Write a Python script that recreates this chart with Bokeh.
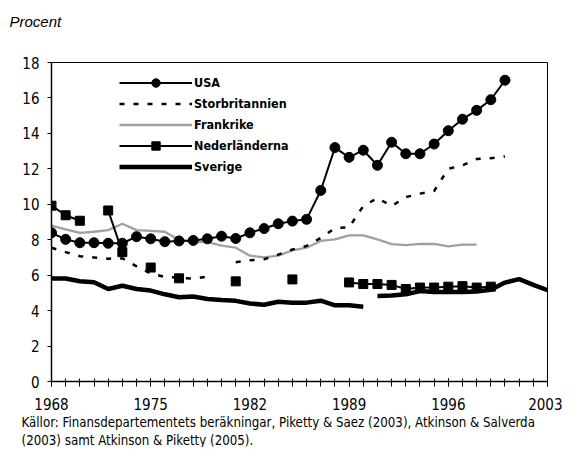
from bokeh.plotting import figure
from bokeh.models import FixedTicker, Legend, LegendItem, Title
from bokeh.embed import file_html
from bokeh.resources import INLINE

nan = float("nan")

# ---- data ----
usa_years = list(range(1968, 2001))
usa = [8.39, 8.02, 7.83, 7.83, 7.80, 7.80, 8.17, 8.05, 7.89, 7.93, 7.96, 8.05, 8.20,
       8.07, 8.39, 8.63, 8.90, 9.05, 9.15, 10.78,
       13.2, 12.65, 13.05, 12.2, 13.5, 12.85, 12.85, 13.4, 14.15, 14.8, 15.3, 15.9, 17.0]

uk_years = list(range(1968, 2001))
storbritannien = [7.55, 7.3, 7.07, 7.0, 6.93, 6.95, 6.5, 6.1, 5.9, 5.86, 5.8, 5.92, nan,
                  6.73, 6.84, 6.9, 7.16, 7.45, 7.65, 8.1,
                  8.65, 8.7, 9.9, 10.35, 9.9, 10.4, 10.6, 10.75, 12.0, 12.2, 12.55, 12.6, 12.7]

fr_years = list(range(1968, 1999))
frankrike = [8.8, 8.58, 8.39, 8.45, 8.54, 8.9, 8.54, 8.5, 8.45, 7.98, 7.89, 7.87, 7.67,
             7.55, 7.1, 7.0, 7.1, 7.4, 7.55, 7.93,
             8.02, 8.25, 8.25, 8.02, 7.75, 7.7, 7.76, 7.76, 7.62, 7.72, 7.72]

nl_years = list(range(1968, 2000))
nederlanderna = [9.92, 9.38, 9.07, nan, 9.65, 7.3, nan, 6.43, nan, 5.82, nan, nan,
                 nan, 5.65, nan, nan, nan, 5.76, nan, nan, nan,
                 5.59, 5.5, 5.5, 5.45, 5.22, 5.3, 5.3, 5.35, 5.38, 5.3, 5.35]

se_years_1 = list(range(1968, 1991))
sverige_1 = [5.81, 5.81, 5.66, 5.6, 5.22, 5.4, 5.22, 5.13, 4.92, 4.75, 4.8, 4.66, 4.6,
             4.55, 4.4, 4.33, 4.5, 4.44, 4.45, 4.56, 4.3, 4.3, 4.22]
se_years_2 = list(range(1991, 2004))
sverige_2 = [4.82, 4.85, 4.92, 5.1, 5.05, 5.05, 5.05, 5.08, 5.18, 5.58, 5.78, 5.45, 5.15]

x_tick_labels = [1968, 1975, 1982, 1989, 1996, 2003]
x_minor = list(range(1968, 2004))
y_ticks = [0, 2, 4, 6, 8, 10, 12, 14, 16, 18]

labels = ["USA", "Storbritannien", "Frankrike", "Nederländerna", "Sverige"]
y_unit = "Procent"
source_1 = "Källor: Finansdepartementets beräkningar, Piketty & Saez (2003), Atkinson & Salverda"
source_2 = "(2003) samt Atkinson & Piketty (2005)."

# ---- styling ----
NARROW = "'Liberation Sans Narrow', 'DejaVu Sans Condensed', 'Arial Narrow', sans-serif"
GRAY = "#a0a0a0"

p = figure(width=562, height=447, output_backend="svg", toolbar_location=None,
           x_range=(1968, 2003), y_range=(0, 18),
           min_border_left=51, min_border_right=15, min_border_top=0, min_border_bottom=0)
p.grid.visible = False
p.outline_line_color = "black"
p.outline_line_width = 1
p.background_fill_color = "white"
p.border_fill_color = "white"

# spacer between the unit label and the frame (closest to the frame)
p.add_layout(Title(text=" ", text_font_size="15px", standoff=3), "above")

p.title.text = y_unit
p.title.align = "left"
p.title.offset = -42
p.title.text_font = "'Liberation Sans', Arial, sans-serif"
p.title.text_font_style = "italic"
p.title.text_font_size = "15px"
p.title.text_color = "black"
p.title.standoff = 21

p.xaxis.ticker = FixedTicker(ticks=x_tick_labels, minor_ticks=x_minor)
p.xaxis.major_tick_in = 3
p.xaxis.major_tick_out = 5
p.xaxis.minor_tick_in = 3
p.xaxis.minor_tick_out = 5
p.xaxis.minor_tick_line_color = "black"
p.xaxis.major_tick_line_color = "black"
p.xaxis.axis_line_width = 1.5
p.xaxis.major_label_standoff = 11
p.yaxis.ticker = FixedTicker(ticks=y_ticks)
p.yaxis.major_tick_in = 0
p.yaxis.major_tick_out = 4
p.yaxis.minor_tick_line_color = None
p.yaxis.axis_line_width = 1.5
p.yaxis.major_label_standoff = 8
for ax in (p.xaxis, p.yaxis):
    ax.major_label_text_font = NARROW
    ax.major_label_text_font_size = "15px"
    ax.major_label_text_color = "black"
    ax.axis_line_color = "black"

r_se1 = p.line(se_years_1, sverige_1, line_color="black", line_width=4.5)
r_se2 = p.line(se_years_2, sverige_2, line_color="black", line_width=4.5)
r_fr = p.line(fr_years, frankrike, line_color=GRAY, line_width=2.3)
r_uk = p.line(uk_years, storbritannien, line_color="black", line_width=2.5, line_dash="5 9")
r_nl = p.line(nl_years, nederlanderna, line_color="black", line_width=2)
r_nl_m = p.scatter(nl_years, nederlanderna, marker="square", size=9, color="black")
r_us = p.line(usa_years, usa, line_color="black", line_width=2)
r_us_m = p.scatter(usa_years, usa, marker="circle", size=10, color="black")

legend = Legend(items=[
    LegendItem(label=labels[0], renderers=[r_us, r_us_m]),
    LegendItem(label=labels[1], renderers=[r_uk]),
    LegendItem(label=labels[2], renderers=[r_fr]),
    LegendItem(label=labels[3], renderers=[r_nl, r_nl_m]),
    LegendItem(label=labels[4], renderers=[r_se1]),
], location=(68, 204), orientation="vertical")
legend.padding = 0
legend.margin = 0
legend.spacing = 0
legend.glyph_width = 73
legend.glyph_height = 21
legend.label_height = 21
legend.label_standoff = 2
legend.label_text_font = NARROW
legend.label_text_font_style = "bold"
legend.label_text_font_size = "12.5px"
legend.label_text_color = "black"
legend.background_fill_alpha = 0
legend.border_line_alpha = 0
p.add_layout(legend, "center")

for txt, so in ((source_1, 1), (source_2, 0)):
    t = Title(text=txt, align="left", offset=-30, text_font=NARROW,
              text_font_size="13.2px", text_font_style="normal", text_color="black",
              standoff=so)
    p.add_layout(t, "below")

open("out.html", "w").write(file_html(p, INLINE))
